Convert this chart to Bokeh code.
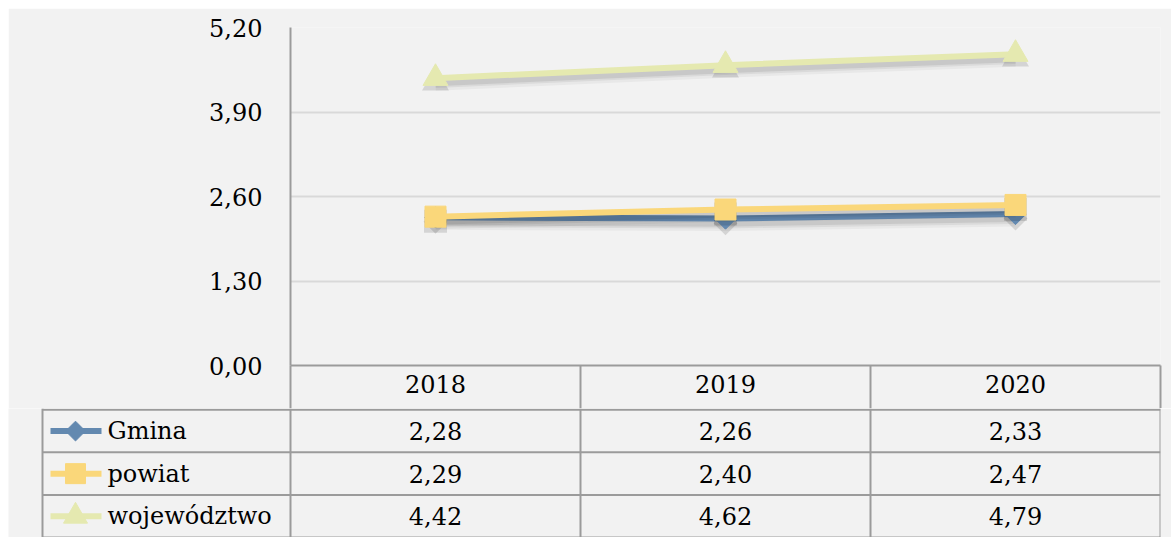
import math
from bokeh.plotting import figure
from bokeh.models import Range1d, FixedTicker, ColumnDataSource
from bokeh.transform import dodge
from bokeh.embed import file_html
from bokeh.resources import INLINE
from bokeh.core.properties import value

# ---------------- data ----------------
years = ["2018", "2019", "2020"]
gmina = [2.28, 2.26, 2.33]
powiat = [2.29, 2.40, 2.47]
wojewodztwo = [4.42, 4.62, 4.79]
series_names = ["Gmina", "powiat", "województwo"]
y_ticks = [0.0, 1.3, 2.6, 3.9, 5.2]
y_tick_labels = ["0,00", "1,30", "2,60", "3,90", "5,20"]

# ---------------- style ----------------
BG = "#f2f2f2"
FONT = value("DejaVu Serif")
FONT_NAME = "DejaVu Serif"
FSIZE = "24px"
GRID = "#d9d9d9"
BORDER = "#9b9b9b"
colors = ["#6389b0", "#fad77a", "#e5e9b0"]
markers = ["square", "square", "triangle"]
angles = [math.pi / 4, 0.0, 0.0]
msizes = [15, 21, 25]
series = [gmina, powiat, wojewodztwo]

n = len(years)
xs = [i + 0.5 for i in range(n)]

# ---------------- chart ----------------
p = figure(width=1163, height=400,
           x_range=Range1d(0, n), y_range=Range1d(y_ticks[0], y_ticks[-1]),
           output_backend="svg", toolbar_location=None,
           min_border_left=282, min_border_right=11,
           min_border_top=19, min_border_bottom=43,
           background_fill_color=BG, border_fill_color=BG,
           outline_line_color=None)
p.margin = (8, 0, 0, 8)

for vals, c, m, s, a in zip(series, colors, markers, msizes, angles):
    src = ColumnDataSource(dict(x=xs, y=vals))
    for off, w, al in [(-0.085, 14, 0.04), (-0.075, 10, 0.06), (-0.07, 7, 0.08)]:
        p.line("x", dodge("y", off, range=p.y_range), source=src,
               line_color="black", line_alpha=al, line_width=w)
    p.scatter("x", dodge("y", -0.07, range=p.y_range), source=src, marker=m, size=s + 2,
              angle=a, fill_color="black", fill_alpha=0.12, line_color=None)
    p.line("x", "y", source=src, line_color=c, line_width=6)
    p.scatter("x", "y", source=src, marker=m, size=s, angle=a, fill_color=c, line_color=c)

# y axis
p.yaxis.ticker = FixedTicker(ticks=y_ticks)
p.yaxis.major_label_overrides = dict(zip(y_ticks, y_tick_labels))
p.yaxis.major_tick_line_color = None
p.yaxis.major_tick_out = 0
p.yaxis.major_tick_in = 0
p.yaxis.minor_tick_line_color = None
p.yaxis.minor_tick_out = 0
p.yaxis.minor_tick_in = 0
p.yaxis.axis_line_color = BORDER
p.yaxis.axis_line_width = 2
p.yaxis.major_label_standoff = 28
p.yaxis.major_label_text_font = FONT_NAME
p.yaxis.major_label_text_font_size = FSIZE
p.yaxis.major_label_text_color = "black"

p.ygrid.ticker = FixedTicker(ticks=y_ticks)
p.ygrid.grid_line_color = GRID
p.ygrid.grid_line_width = 2
p.xgrid.visible = False

# x axis = table header row (minor ticks draw the column separators)
p.xaxis.ticker = FixedTicker(ticks=xs, minor_ticks=list(range(n + 1)))
p.xaxis.major_label_overrides = dict(zip(xs, years))
p.xaxis.major_tick_line_color = None
p.xaxis.major_tick_out = 0
p.xaxis.major_tick_in = 0
p.xaxis.minor_tick_line_color = BORDER
p.xaxis.minor_tick_line_width = 2
p.xaxis.minor_tick_out = 43
p.xaxis.minor_tick_in = 0
p.xaxis.axis_line_color = BORDER
p.xaxis.axis_line_width = 2
p.xaxis.major_label_standoff = -34
p.xaxis.major_label_text_font = FONT_NAME
p.xaxis.major_label_text_font_size = FSIZE
p.xaxis.major_label_text_color = "black"

# ---------------- data table ----------------
left_px = 282.0   # label area width in px left of the first year column
col_px = 290.0
lab_left = -248.0 / col_px
t = figure(width=1163, height=129,
           x_range=Range1d(-left_px / col_px, n), y_range=Range1d(3, -0.03),
           output_backend="svg", toolbar_location=None,
           min_border_left=0, min_border_right=11, min_border_top=0, min_border_bottom=0,
           background_fill_color=BG, border_fill_color=BG,
           outline_line_color=None, x_axis_type=None, y_axis_type=None)
t.margin = (0, 0, 0, 8)
t.grid.visible = False

rows = len(series)
t.segment(x0=[lab_left] * (rows + 1), y0=list(range(rows + 1)),
          x1=[n] * (rows + 1), y1=list(range(rows + 1)),
          line_color=BORDER, line_width=2)
vx = [lab_left] + list(range(n + 1))
t.segment(x0=vx, y0=[-0.03] * len(vx), x1=vx, y1=[rows] * len(vx),
          line_color=BORDER, line_width=2)

cx, cy, ct = [], [], []
for r, vals in enumerate(series):
    for c, v in enumerate(vals):
        cx.append(c + 0.5)
        cy.append(r + 0.5)
        ct.append(f"{v:.2f}".replace(".", ","))
t.text(x=cx, y=cy, text=ct, text_align="center", text_baseline="middle",
       text_font=FONT, text_font_size=FSIZE, text_color="black")

ry = [r + 0.5 for r in range(rows)]
kx0 = -240.0 / col_px
kx1 = -189.0 / col_px
kxm = -215.0 / col_px
tx = -183.0 / col_px
legend_sizes = [14, 20, 24]
for r, (c, m, s, a) in enumerate(zip(colors, markers, legend_sizes, angles)):
    t.segment(x0=[kx0], y0=[ry[r]], x1=[kx1], y1=[ry[r]], line_color=c, line_width=6)
    t.scatter(x=[kxm], y=[ry[r]], marker=m, size=s, angle=a, fill_color=c, line_color=c)
t.text(x=[tx] * rows, y=ry, text=series_names, text_align="left", text_baseline="middle",
       text_font=FONT, text_font_size=FSIZE, text_color="black")

open("out.html", "w").write(file_html([p, t], INLINE))
